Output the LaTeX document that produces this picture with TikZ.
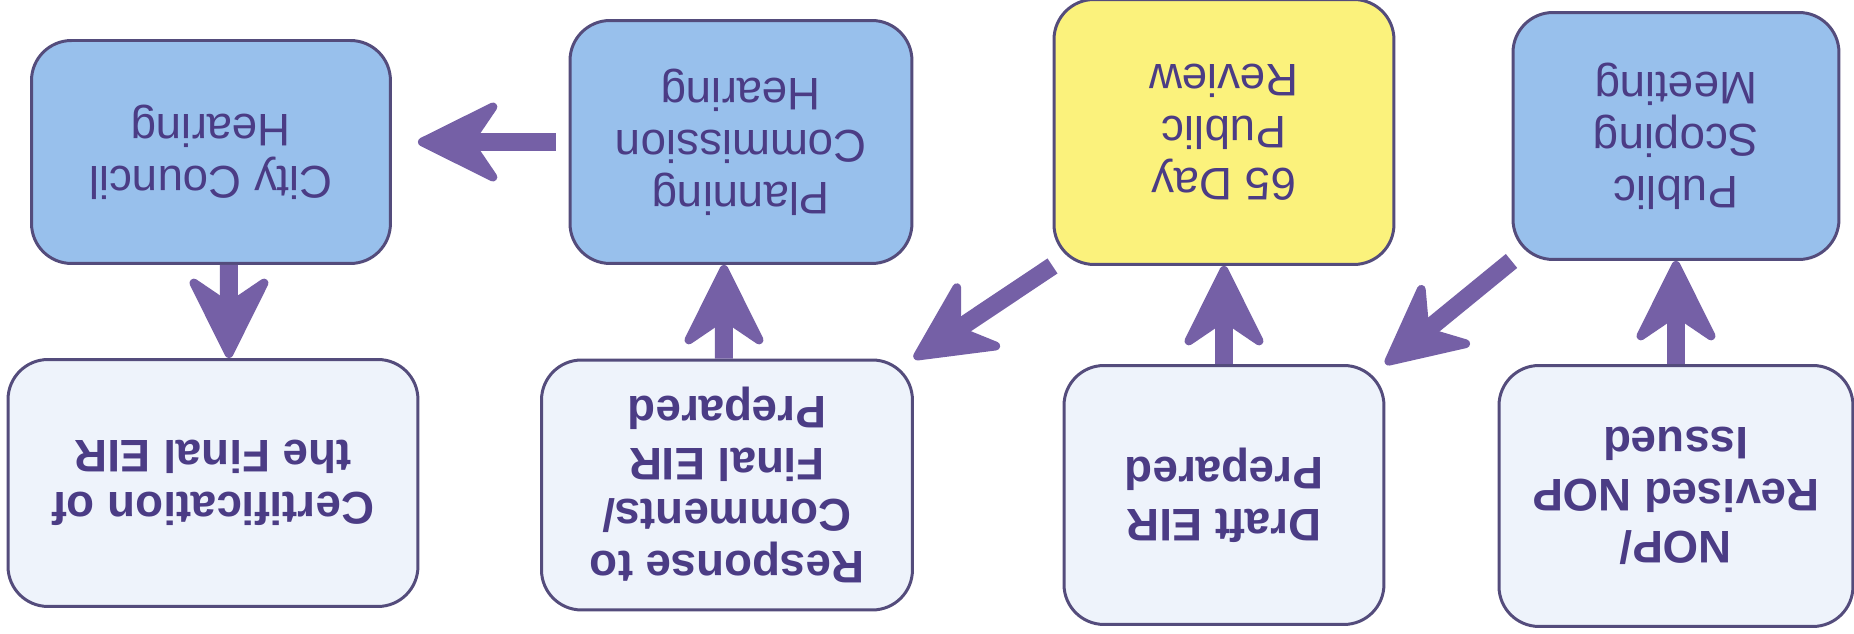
\documentclass[tikz,border=0pt]{standalone}
\usepackage{fontspec}
\setmainfont{Liberation Sans}
\usetikzlibrary{arrows.meta,positioning}
\definecolor{meetblue}{HTML}{98C0EC}
\definecolor{reviewyellow}{HTML}{FBF27C}
\definecolor{paleblue}{HTML}{EEF3FB}
\definecolor{edge}{HTML}{544C7C}
\definecolor{flowpurple}{HTML}{7560A6}
\definecolor{ink}{HTML}{4B3C85}
\tikzset{
  flow/.style={-{Stealth[length=1.86cm,width=1.84cm,inset=.62cm,round,line width=5pt]},
    draw=flowpurple,line width=.36cm},
  box/.style={rounded corners=.8cm,draw=edge,line width=1.7pt,align=center,
    inner sep=4pt,text=ink,font=\fontsize{26pt}{29.5pt}\selectfont},
  meetbox/.style={box,fill=meetblue},
  reviewbox/.style={box,fill=reviewyellow},
  docbox/.style={box,fill=paleblue,font=\fontsize{26pt}{29.5pt}\selectfont\bfseries},
}
\begin{document}
\begin{tikzpicture}[x=.02cm,y=-.02cm,rotate=180,transform shape]
\useasboundingbox[fill=white] (0,0) rectangle (1854,634);
% first step of the review
\node[docbox,minimum width=7.08cm,minimum height=5.22cm] (nop) at (178,138) {NOP/\\Revised NOP\\Issued};
\node[meetbox,minimum width=6.52cm,minimum height=4.94cm] (scoping) at (178,498) {Public\\Scoping\\Meeting};
\node[docbox,minimum width=6.4cm,minimum height=5.18cm] (draft) at (630,139) {Draft EIR\\Prepared};
\node[reviewbox,minimum width=6.8cm,minimum height=5.3cm] (review) at (630,502) {65 Day\\Public\\Review};
\node[docbox,minimum width=7.42cm,minimum height=5cm] (response) at (1127,149) {Response to\\Comments/\\Final EIR\\Prepared};
\node[meetbox,minimum width=6.84cm,minimum height=4.86cm] (planning) at (1113,492) {Planning\\Commission\\Hearing};
\node[docbox,minimum width=8.2cm,minimum height=4.94cm] (certify) at (1641,151) {Certification of\\the Final EIR};
\node[meetbox,minimum width=7.18cm,minimum height=4.46cm] (council) at (1643,482) {City Council\\Hearing};
\coordinate (hearingtip) at (council.west |- planning.east);
% connectors
\draw[flow] (nop) -- (scoping);
\draw[flow] (scoping.north east) -- (draft.south west);
\draw[flow] (draft) -- (review);
\draw[flow] (review.north east) -- (response.south west);
\draw[flow] ([xshift=.06cm]response.south) -- ([xshift=.34cm]planning.north);
\draw[flow] ([xshift=.26cm]planning.east) -- ([xshift=-.52cm]hearingtip);
\draw[flow] ([xshift=-.36cm]council.north) -- ([xshift=-.32cm]certify.south);
\end{tikzpicture}
\end{document}
